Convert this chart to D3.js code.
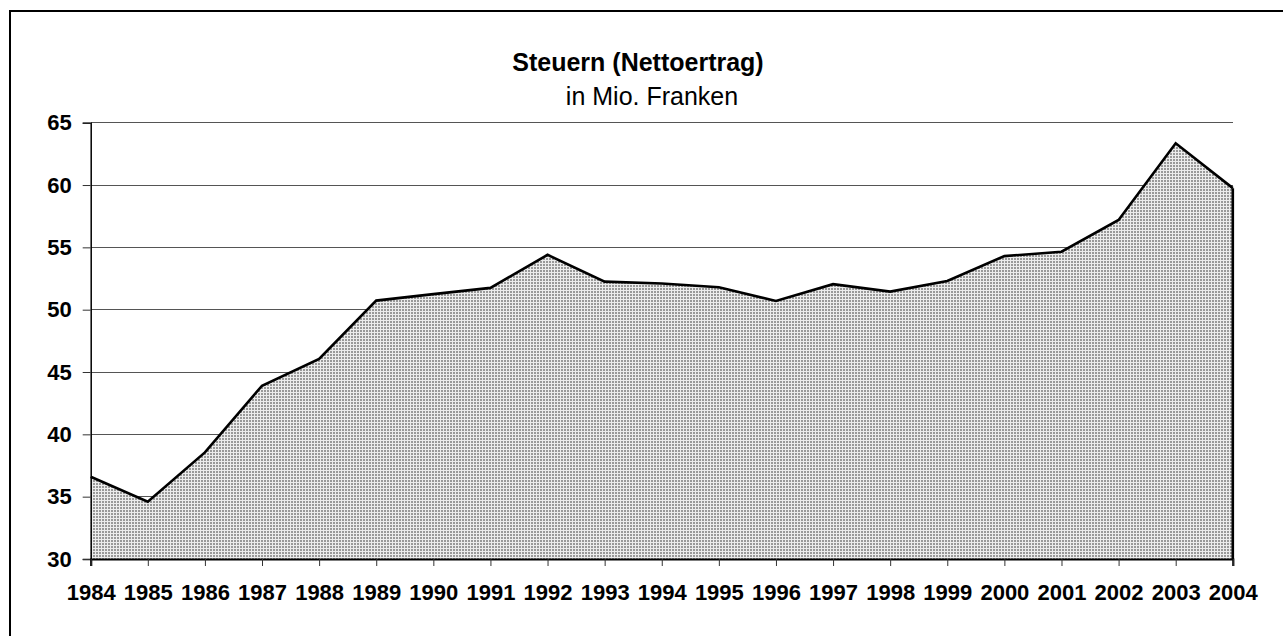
<!DOCTYPE html>
<html>
<head>
<meta charset="utf-8">
<script src="https://cdn.jsdelivr.net/npm/d3@7/dist/d3.min.js"></script>
<style>
  html, body { margin: 0; padding: 0; background: #fff; }
  svg { display: block; }
  text { font-family: "Liberation Sans", Arial, sans-serif; }
</style>
</head>
<body>
<svg id="chart" width="1283" height="636"></svg>
<script>
const years = ["1984","1985","1986","1987","1988","1989","1990","1991","1992","1993","1994",
               "1995","1996","1997","1998","1999","2000","2001","2002","2003","2004"];
const values = [36.6, 34.6, 38.55, 43.9, 46.05, 50.73, 51.25, 51.75, 54.4, 52.25, 52.1,
                51.8, 50.7, 52.05, 51.45, 52.3, 54.3, 54.65, 57.2, 63.35, 59.75];
const yTicks = [30, 35, 40, 45, 50, 55, 60, 65];
const title = "Steuern (Nettoertrag)";
const subtitle = "in Mio. Franken";

const svg = d3.select("#chart");

// outer frame (extends beyond the picture on right and bottom)
svg.append("rect").attr("x", 10).attr("y", 11).attr("width", 1400).attr("height", 800)
  .attr("fill", "none").attr("stroke", "#000").attr("stroke-width", 2);

const x = d3.scalePoint().domain(years).range([90.7, 1232.8]).padding(0);
const y = d3.scaleLinear().domain([30, 65]).range([559, 122.7]);

// pattern fill
const defs = svg.append("defs");
const pat = defs.append("pattern").attr("id", "dots").attr("patternUnits", "userSpaceOnUse")
  .attr("width", 3).attr("height", 3);
pat.append("rect").attr("width", 3).attr("height", 3).attr("fill", "#ececec");
pat.append("rect").attr("width", 2).attr("height", 2).attr("fill", "#999");

// gridlines
svg.append("g").selectAll("line").data(yTicks.filter(d => d !== 30)).join("line")
  .attr("x1", x.range()[0]).attr("x2", x.range()[1])
  .attr("y1", d => y(d)).attr("y2", d => y(d))
  .attr("stroke", "#555").attr("stroke-width", 1).attr("shape-rendering", "crispEdges");

const data = years.map((yr, i) => ({yr, v: values[i]}));

// area
const area = d3.area().x(d => x(d.yr)).y0(y(30)).y1(d => y(d.v));
svg.append("path").datum(data).attr("d", area).attr("fill", "url(#dots)");

// outline top + right edge
const line = d3.line().x(d => x(d.yr)).y(d => y(d.v));
svg.append("path").datum(data).attr("d", line)
  .attr("fill", "none").attr("stroke", "#000").attr("stroke-width", 2.6).attr("stroke-linejoin", "miter");
const last = data[data.length - 1];
svg.append("line").attr("x1", x(last.yr)).attr("x2", x(last.yr))
  .attr("y1", y(last.v)).attr("y2", y(30))
  .attr("stroke", "#000").attr("stroke-width", 2.6);

// y axis
const yAxis = d3.axisLeft(y).tickValues(yTicks).tickSize(8).tickPadding(11).tickFormat(d3.format("d"));
const gy = svg.append("g").attr("transform", `translate(${x.range()[0]},0)`).call(yAxis);
gy.select(".domain").attr("stroke", "#000").attr("stroke-width", 1.5);
gy.selectAll(".tick line").attr("stroke", "#333").attr("stroke-width", 1);
gy.selectAll(".tick text").attr("font-size", 22).attr("font-weight", "bold").attr("fill", "#000")
  .attr("font-family", "'Liberation Sans', Arial, sans-serif");

// x axis
const xAxis = d3.axisBottom(x).tickSize(7).tickPadding(18);
const gx = svg.append("g").attr("transform", `translate(0,${y(30)})`).call(xAxis);
gx.select(".domain").attr("stroke", "#000").attr("stroke-width", 2.2);
gx.selectAll(".tick line").attr("stroke", "#333").attr("stroke-width", 1);
gx.selectAll(".tick text").attr("font-size", 22).attr("font-weight", "bold").attr("fill", "#000")
  .attr("font-family", "'Liberation Sans', Arial, sans-serif");

// titles
svg.append("text").attr("x", 638).attr("y", 71).attr("text-anchor", "middle")
  .attr("font-size", 25).attr("font-weight", "bold").text(title);
svg.append("text").attr("x", 652).attr("y", 105).attr("text-anchor", "middle")
  .attr("font-size", 25).text(subtitle);
</script>
</body>
</html>
